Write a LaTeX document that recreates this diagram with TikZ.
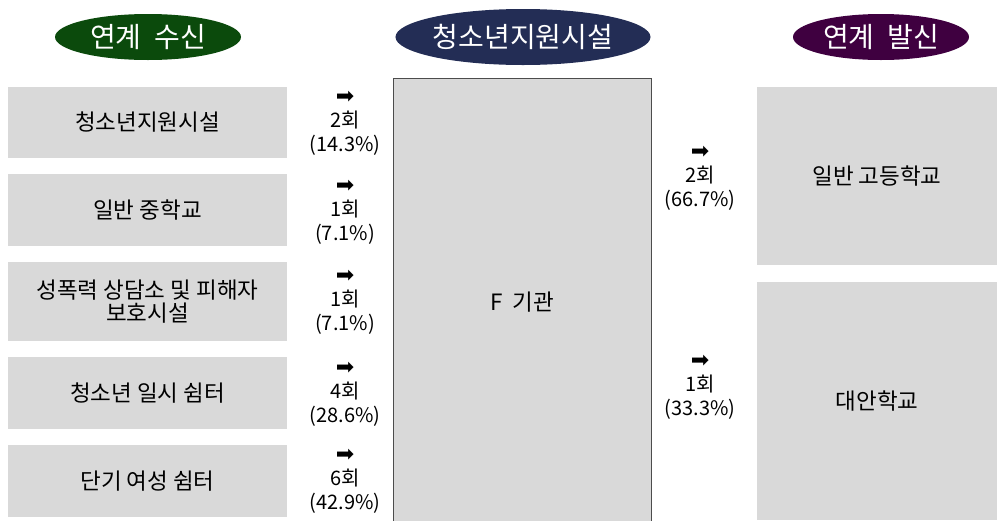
\documentclass[tikz,border=0pt]{standalone}
\usepackage{fontspec}
\setmainfont{Noto Sans CJK KR}
\newfontfamily\symfont{DejaVu Sans}
\definecolor{boxgray}{HTML}{D9D9D9}
\definecolor{recvgreen}{HTML}{0B4A0C}
\definecolor{centnavy}{HTML}{232D55}
\definecolor{sendpurple}{HTML}{3F0040}
\tikzset{
  srcbox/.style={fill=boxgray, minimum width=279pt, inner sep=0pt, align=center, font=\fontsize{22.5}{23}\selectfont},
  head/.style={ellipse, text=white, inner sep=0pt, font=\fontsize{28}{30}\selectfont},
  cnt/.style={align=center, font=\fontsize{20}{24}\selectfont, inner sep=0pt},
}
\newcommand{\arr}{{\symfont\fontsize{22}{22}\selectfont ➡}}
\usetikzlibrary{shapes.geometric}
\begin{document}
\begin{tikzpicture}[x=1pt, y=1pt]
\useasboundingbox (0,0) rectangle (997,-520);

% headers
\node[head, fill=recvgreen, minimum width=186pt, minimum height=46pt] (recv) at (148,-37) {연계\ \ 수신};
\node[head, fill=centnavy, minimum width=232pt, minimum height=56pt] (cent) at (523,-37) {청소년지원시설};
\node[head, fill=sendpurple, minimum width=176pt, minimum height=46pt] (send) at (881,-37) {연계\ \ 발신};

% center
\draw[fill=boxgray, draw=black!70, line width=1pt] (393.5,-530) rectangle (651,-78.5);
\node[font=\fontsize{22.5}{23}\selectfont] (fac) at (522,-302) {F\ \ 기관};

% sources
\node[srcbox, minimum height=71pt] (s1) at (147.5,-122.5) {청소년지원시설};
\node[srcbox, minimum height=72pt] (s2) at (147.5,-210) {일반 중학교};
\node[srcbox, minimum height=79pt] (s3) at (147.5,-301.5) {성폭력 상담소 및 피해자\\보호시설};
\node[srcbox, minimum height=72pt] (s4) at (147.5,-393) {청소년 일시 쉼터};
\node[srcbox, minimum height=72pt] (s5) at (147.5,-481) {단기 여성 쉼터};

\node[cnt] (c1) at (345,-123) {\arr\\2회\\(14.3\%)};
\node[cnt] (c2) at (345,-212) {\arr\\1회\\(7.1\%)};
\node[cnt] (c3) at (345,-302) {\arr\\1회\\(7.1\%)};
\node[cnt] (c4) at (345,-394) {\arr\\4회\\(28.6\%)};
\node[cnt] (c5) at (345,-481) {\arr\\6회\\(42.9\%)};

% targets
\node[srcbox, minimum width=240pt, minimum height=178pt] (t1) at (877,-176) {일반 고등학교};
\node[srcbox, minimum width=240pt, minimum height=238pt] (t2) at (877,-401) {대안학교};

\node[cnt] (d1) at (700,-178) {\arr\\2회\\(66.7\%)};
\node[cnt] (d2) at (700,-387) {\arr\\1회\\(33.3\%)};

\end{tikzpicture}
\end{document}
